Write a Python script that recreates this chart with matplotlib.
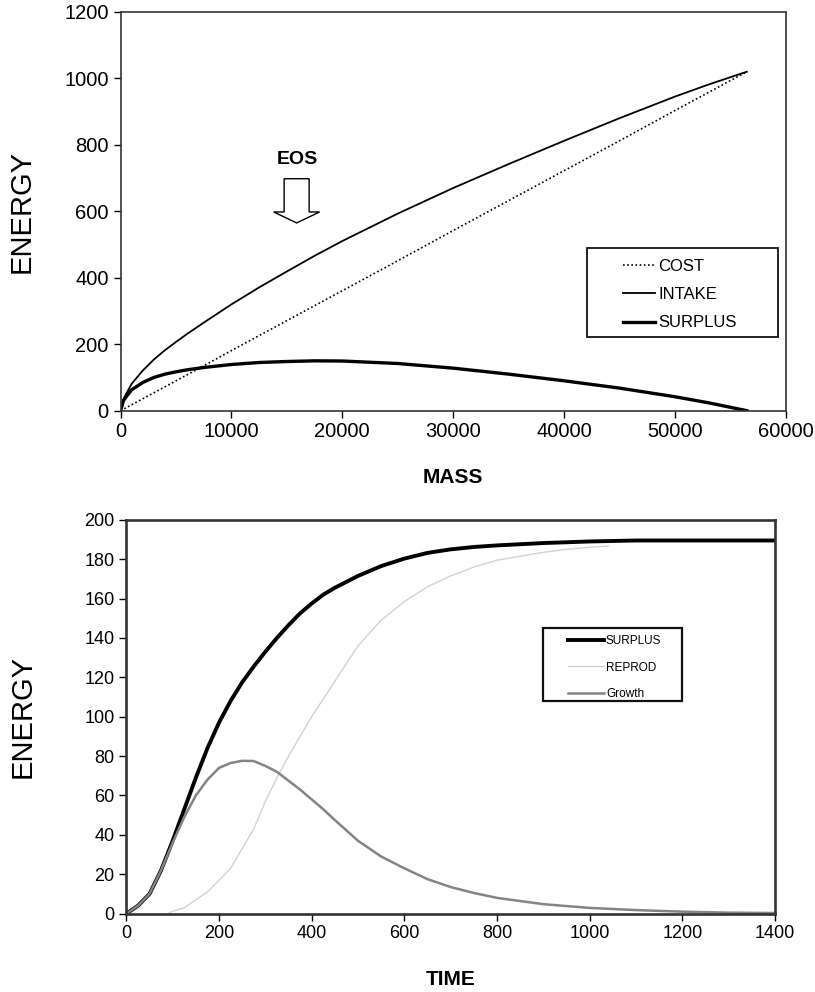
import numpy as np
import matplotlib.pyplot as plt
from matplotlib.patches import FancyArrow, Rectangle

plt.rcParams['font.family'] = ['Liberation Sans', 'DejaVu Sans']

# top panel: energy vs mass
mass = [0, 250, 500, 1000, 2000, 3000, 4000, 5000, 6000, 7500, 10000, 12500,
        15000, 17500, 20000, 25000, 30000, 35000, 40000, 45000, 50000, 53000,
        56500]
cost = [0, 4.5, 9, 18, 36, 54, 72, 90, 108, 135, 181, 226, 271, 316, 361,
        451, 542, 632, 722, 812, 903, 957, 1020]
intake = [0, 34.5, 51, 81, 121, 154, 182, 207, 231, 265, 320, 371, 419, 466,
          510.5, 593, 670, 742, 812, 880, 945, 981, 1020]
surplus_m = [0, 30, 42, 63, 85, 100, 110, 117, 123, 130, 139, 145, 148, 150,
             149.5, 142, 128, 110, 90, 68, 42, 24, 0]

# bottom panel: energy vs time
time = [0, 25, 50, 75, 100, 125, 150, 175, 200, 225, 250, 275, 300, 325, 350,
        375, 400, 425, 450, 500, 550, 600, 650, 700, 750, 800, 900, 1000,
        1100, 1200, 1300, 1400]
surplus_t = [0, 4, 10, 22, 37, 53, 69, 84, 97, 108, 117.5, 125.5, 133, 140,
             146.5, 152.5, 157.5, 162, 165.5, 171.5, 176.5, 180.3, 183.2,
             185, 186.2, 187, 188.2, 189, 189.5, 189.5, 189.5, 189.5]
growth = [0, 4, 10, 22, 36, 49, 60, 68, 74, 76.5, 77.6, 77.5, 75, 72, 67.5,
          63, 58, 53, 47.5, 37, 29, 23, 17.5, 13.5, 10.5, 8, 4.8, 2.9, 1.8,
          1.0, 0.5, 0.3]
time_r = [90, 100, 125, 150, 175, 200, 225, 250, 275, 300, 325, 350, 375, 400,
          450, 500, 550, 600, 650, 700, 750, 800, 850, 900, 950, 1000, 1040]
reprod = [0, 1.2, 3, 7, 11, 17, 23, 33, 43, 57, 69, 80, 90, 100, 118, 136,
          149, 158.5, 166, 171.5, 176, 179.5, 181.5, 183.5, 185, 186, 186.7]


def boxed_legend(ax, frame, anchor, fs, hl, ls, lw):
    ax.add_patch(Rectangle(frame[:2], frame[2], frame[3], transform=ax.transAxes,
                           facecolor='white', edgecolor='#111111', lw=lw, zorder=4))
    leg = ax.legend(loc='upper left', bbox_to_anchor=anchor, frameon=False,
                    fontsize=fs, handlelength=hl, handletextpad=0.2,
                    labelspacing=ls, borderpad=0, borderaxespad=0)
    leg.set_zorder(5)


def main():
    fig = plt.figure(figsize=(8.15, 9.92), dpi=100)

    ax1 = fig.add_axes([0.148, 0.586, 0.816, 0.402])
    ax1.plot(mass, cost, color='black', lw=1.2, ls=(0, (1, 1.5)), label='COST')
    ax1.plot(mass, intake, color='black', lw=1.3, label='INTAKE')
    ax1.plot(mass, surplus_m, color='black', lw=2.4, label='SURPLUS')
    ax1.set_xlim(0, 60000)
    ax1.set_ylim(0, 1200)
    ax1.set_xticks(range(0, 60001, 10000))
    ax1.set_yticks(range(0, 1201, 200))
    ax1.set_ylabel('ENERGY', fontsize=21)
    ax1.yaxis.set_label_coords(-0.128, 0.5)
    ax1.set_xlabel('MASS', fontsize=15, fontweight='bold')
    ax1.xaxis.set_label_coords(0.5, -0.143)
    boxed_legend(ax1, (0.702, 0.185, 0.286, 0.224), (0.755, 0.381), 12, 1.92, 0.8, 1.3)
    ax1.text(15970, 755, 'EOS', fontsize=14, fontweight='bold', ha='center', va='center')
    ax1.add_patch(FancyArrow(15880, 698, 0, -133, width=2255, head_width=4150,
                             head_length=33, length_includes_head=True,
                             facecolor='white', edgecolor='black', lw=1.0))

    ax2 = fig.add_axes([0.155, 0.079, 0.796, 0.397])
    ax2.plot(time, surplus_t, color='black', lw=2.8, label='SURPLUS')
    ax2.plot(time_r, reprod, color='#d2d2d2', lw=1.0, label='REPROD')
    ax2.plot(time, growth, color='#848484', lw=1.8, label='Growth')
    ax2.set_xlim(0, 1400)
    ax2.set_ylim(0, 200)
    ax2.set_xticks(range(0, 1401, 200))
    ax2.set_yticks(range(0, 201, 20))
    ax2.set_ylabel('ENERGY', fontsize=21)
    ax2.yaxis.set_label_coords(-0.139, 0.5)
    ax2.set_xlabel('TIME', fontsize=15, fontweight='bold')
    ax2.xaxis.set_label_coords(0.5, -0.142)
    boxed_legend(ax2, (0.6425, 0.5406, 0.2145, 0.1854), (0.681, 0.708), 8.5, 3.0, 1.25, 1.6)

    for ax, lw, fs in ((ax1, 1.2, 14.5), (ax2, 1.9, 13)):
        for s in ax.spines.values():
            s.set_linewidth(lw)
            s.set_color('#333333')
        ax.tick_params(labelsize=fs, direction='out', length=5, width=1.0)

    fig.savefig('out.png', dpi=100, facecolor='white')


if __name__ == '__main__':
    main()
